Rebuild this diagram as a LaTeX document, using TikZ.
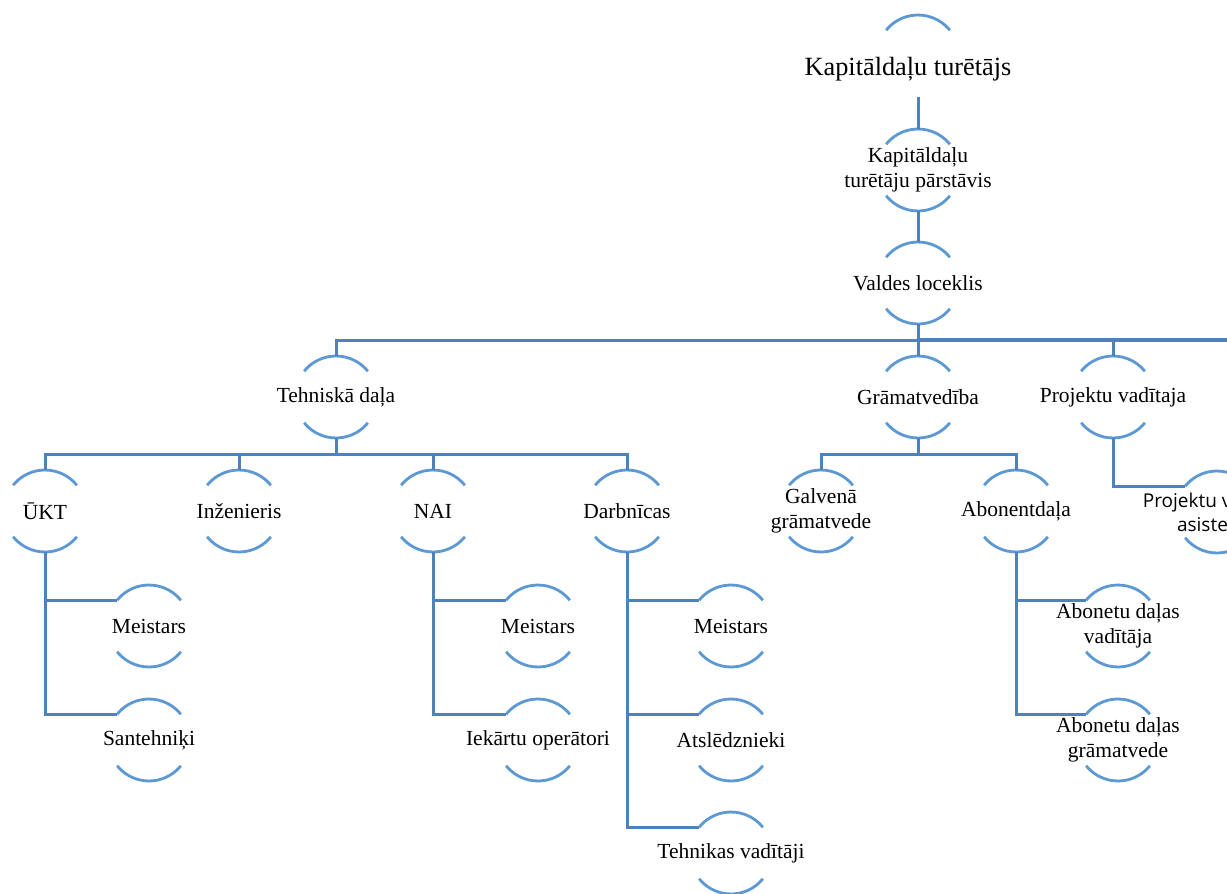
\documentclass[tikz,border=0pt]{standalone}
\usepackage{fontspec}
\setmainfont{Liberation Serif}
\newfontfamily\osans{Open Sans}
\definecolor{arcc}{RGB}{92,152,212}
\definecolor{linec}{RGB}{79,129,189}
\tikzset{
  ring/.style={circle, minimum size=82pt, inner sep=0pt, outer sep=0pt},
  lbl/.style={align=center, font=\fontsize{21.5}{24.5}\selectfont, inner sep=0pt},
  sanslbl/.style={align=center, font=\osans\fontsize{19}{24}\selectfont, inner sep=0pt},
  rootlbl/.style={font=\fontsize{26.3}{30}\selectfont, inner sep=0pt},
  arcline/.style={draw=arcc, line width=2.8pt},
  conn/.style={draw=linec, line width=3pt},
  busthick/.style={draw=linec, line width=4pt}
}
\newcommand\orgnode[4][lbl]{%
  \node[ring] (#2) at (#3) {};
  \node[#1] (#2-t) at (#3) {#4};
  \draw[arcline] (#2.39) arc[start angle=39, end angle=141, radius=41pt];
  \draw[arcline] (#2.219) arc[start angle=219, end angle=321, radius=41pt];
}
\begin{document}
\begin{tikzpicture}[x=1pt,y=1pt]
\useasboundingbox (0,0) rectangle (1227,-894);
% root
\node[ring] (root) at (918,-56) {};
\node[rootlbl] (root-t) at (908,-69) {Kapitāldaļu turētājs};
\draw[arcline] (root.39) arc[start angle=39, end angle=141, radius=41pt];
% level nodes
\orgnode{rep}{918,-170}{Kapitāldaļu\\turētāju pārstāvis}
\orgnode{val}{918,-283}{Valdes loceklis}
\orgnode{teh}{336,-397}{Tehniskā daļa}
\orgnode{gra}{918,-397}{Grāmatvedība}
\orgnode{pro}{1113,-397}{Projektu vadītaja}
\orgnode{ukt}{45,-511}{ŪKT}
\orgnode{inz}{239,-511}{Inženieris}
\orgnode{nai}{433,-511}{NAI}
\orgnode{dar}{627,-511}{Darbnīcas}
\orgnode{gal}{821,-511}{Galvenā\\grāmatvede}
\orgnode{abo}{1016,-511}{Abonentdaļa}
\orgnode[sanslbl]{asi}{1217,-512}{Projektu vadītāja\\asistente}
\orgnode{mA}{149,-626}{Meistars}
\orgnode{san}{149,-740}{Santehniķi}
\orgnode{mB}{538,-626}{Meistars}
\orgnode{iek}{538,-740}{Iekārtu operātori}
\orgnode{mC}{731,-626}{Meistars}
\orgnode{ats}{731,-740}{Atslēdznieki}
\orgnode{tv}{731,-853}{Tehnikas vadītāji}
\orgnode{av}{1118,-626}{Abonetu daļas\\vadītāja}
\orgnode{ag}{1118,-740}{Abonetu daļas\\grāmatvede}
% bus coordinates
\coordinate (busA) at (0,-340);
\coordinate (busB) at (0,-454);
\coordinate (offR) at (1240,-340);
% connectors
\draw[conn] (root.south) -- (rep.north);
\draw[conn] (rep.south) -- (val.north);
\draw[conn] (val.south) -- (gra.north);
\draw[conn] (val.south |- busA) -| (teh.north);
\draw[busthick] (val.south |- busA) -- (offR);
\draw[conn] (val.south |- busA) -| (pro.north);
\draw[conn] (teh.south) -- (teh.south |- busB) -| (ukt.north);
\draw[conn] (teh.south |- busB) -| (inz.north);
\draw[conn] (teh.south |- busB) -| (nai.north);
\draw[conn] (teh.south |- busB) -| (dar.north);
\draw[conn] (gra.south) -- (gra.south |- busB) -| (gal.north);
\draw[conn] (gra.south |- busB) -| (abo.north);
\draw[conn] (pro.south) |- (asi.141);
\draw[conn] (ukt.south) |- (mA.141);
\draw[conn] (ukt.south) |- (san.141);
\draw[conn] (nai.south) |- (mB.141);
\draw[conn] (nai.south) |- (iek.141);
\draw[conn] (dar.south) |- (mC.141);
\draw[conn] (dar.south) |- (ats.141);
\draw[conn] (dar.south) |- (tv.141);
\draw[conn] (abo.south) |- (av.141);
\draw[conn] (abo.south) |- (ag.141);
\end{tikzpicture}
\end{document}
